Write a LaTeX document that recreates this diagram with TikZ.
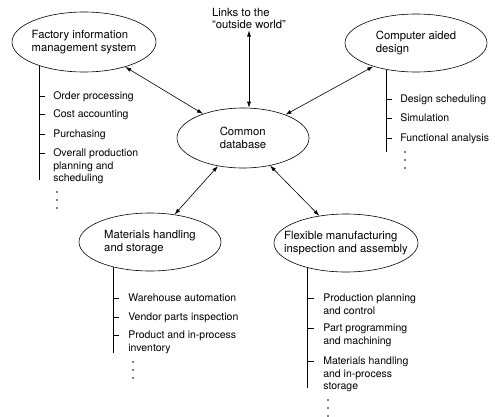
\documentclass[tikz,border=0pt]{standalone}
\usepackage{fontspec}
\setmainfont{TeX Gyre Heros}
\usetikzlibrary{shapes.geometric,arrows.meta}

\begin{document}
\begin{tikzpicture}[x=1pt,y=-1pt,line width=.6pt,
	>={Latex[length=6pt,width=4pt]},
	bubble/.style={draw,ellipse,inner xsep=-12pt,inner ysep=0pt,align=left,font=\fontsize{11.3}{13}\selectfont},
	item/.style={anchor=north west,align=left,inner sep=0pt,font=\fontsize{10.5}{12.3}\selectfont}
	]
	\useasboundingbox (0,0) rectangle (495,416);
	\path 
		(84,42) node[bubble,minimum width=144pt,minimum height=60pt] (fims) {Factory information\\management system}
		(416,43) node[bubble,minimum width=142pt,minimum height=58pt] (cad) {Computer aided\\design}
		(243,138) node[bubble,minimum width=132pt,minimum height=60pt] (cdb) {Common\\database}
		(150,242) node[bubble,minimum width=142pt,minimum height=58pt] (mhs) {Materials handling\\and storage}
		(346,243) node[bubble,minimum width=144pt,minimum height=58pt] (fmi) {Flexible manufacturing\\inspection and assembly}
		(249,18) node[align=left,inner sep=2pt,font=\fontsize{11.3}{12}\selectfont] (links) {Links to the\\“outside world”}
		;
	
	\draw[<->] (fims) -- (cdb);
	\draw[<->] (cad) -- (cdb);
	\draw[<->] (mhs) -- (cdb);
	\draw[<->] (fmi) -- (cdb);
	\draw[<->] (links.south) -- (links.south |- cdb.north);
	
	% spines
	\draw 
		(fims.208) -- (fims.208 |- 0,180)
		(cad.222) -- (cad.222 |- 0,152)
		(mhs.214) -- (mhs.214 |- 0,353)
		(fmi.213) -- (fmi.213 |- 0,388)
	;
	
	\foreach \y/\t in {96/Order processing,114/Cost accounting,134/Purchasing,153/{Overall production\\planning and\\scheduling}}{
		\draw (fims.208 |- 0,\y) -- +(6,0);
		\node[item] (fi\y) at (53,\y-5.1) {\strut\t};
	}
	\foreach \y/\t in {99/Design scheduling,118/Simulation,138/Functional analysis}{
		\draw (cad.222 |- 0,\y) -- +(6,0);
		\node[item] (ca\y) at (400,\y-5.1) {\strut\t};
	}
	\foreach \y/\t in {298/Warehouse automation,317/Vendor parts inspection,335/{Product and in-process\\inventory}}{
		\draw (mhs.214 |- 0,\y) -- +(6,0);
		\node[item] (mh\y) at (128,\y-5.1) {\strut\t};
	}
	\foreach \y/\t in {298/{Production planning\\and control},328/{Part programming\\and machining},361/{Materials handling\\and in-process\\storage}}{
		\draw (fmi.213 |- 0,\y) -- +(6,0);
		\node[item] (fm\y) at (323,\y-5.1) {\strut\t};
	}
	
	% dots
	\foreach \x/\y in {57/192,405/152,133/362,328/400}
		\foreach \d in {0,8,16}
			\fill (\x,\y+\d) circle (.8pt);
\end{tikzpicture}
\end{document}
